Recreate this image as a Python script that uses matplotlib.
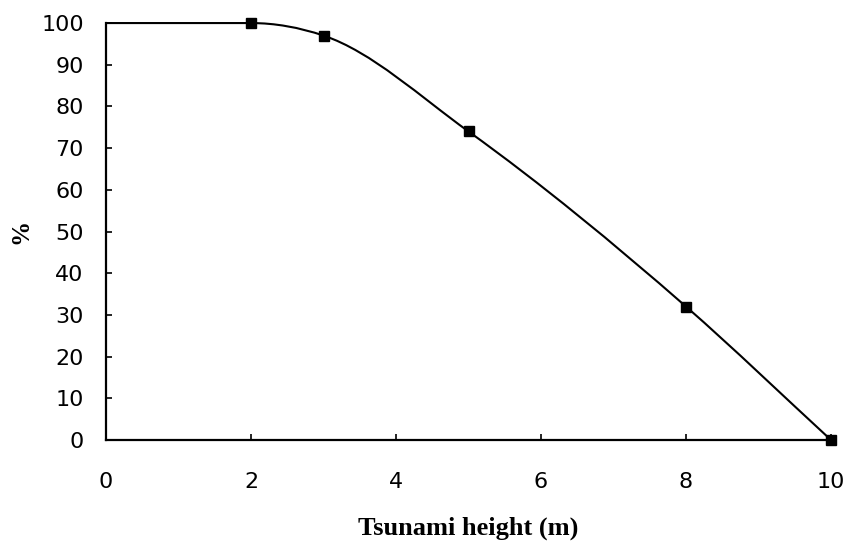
import matplotlib.pyplot as plt
from matplotlib.path import Path
from matplotlib.patches import PathPatch

# tsunami height (m) vs percent
height = [0, 2, 3, 5, 8, 10]
percent = [100, 100, 97, 74, 32, 0]
marked = [False, True, True, True, True, True]

xticks = [0, 2, 4, 6, 8, 10]
yticks = [0, 10, 20, 30, 40, 50, 60, 70, 80, 90, 100]


def smooth_path(xs, ys):
    # smoothed line: parabolic tangents turned into bezier segments
    n = len(xs)
    h = [xs[i + 1] - xs[i] for i in range(n - 1)]
    d = [(ys[i + 1] - ys[i]) / h[i] for i in range(n - 1)]
    m = [0.0] * n
    for k in range(1, n - 1):
        if d[k - 1] * d[k] > 0:
            m[k] = (h[k] * d[k - 1] + h[k - 1] * d[k]) / (h[k - 1] + h[k])
    m[0] = d[0]
    m[-1] = d[-1]
    verts = [(xs[0], ys[0])]
    codes = [Path.MOVETO]
    for i in range(n - 1):
        verts += [(xs[i] + h[i] / 3, ys[i] + m[i] * h[i] / 3),
                  (xs[i + 1] - h[i] / 3, ys[i + 1] - m[i + 1] * h[i] / 3),
                  (xs[i + 1], ys[i + 1])]
        codes += [Path.CURVE4] * 3
    return Path(verts, codes)


fig = plt.figure(figsize=(8.48, 5.49), dpi=100)
ax = fig.add_axes([0.125, 0.1985, 0.855, 0.7595])

ax.add_patch(PathPatch(smooth_path(height, percent), fill=False,
                       edgecolor='black', lw=1.5, clip_on=False))
mx = [x for x, k in zip(height, marked) if k]
my = [y for y, k in zip(percent, marked) if k]
ax.plot(mx, my, 's', color='black', markersize=6.5, clip_on=False, zorder=5)

ax.set_xlim(0, 10)
ax.set_ylim(0, 100)
ax.set_xticks(xticks)
ax.set_yticks(yticks)
ax.tick_params(direction='in', length=4, width=1.2, labelsize=16)
ax.tick_params(axis='y', pad=16)
ax.tick_params(axis='x', pad=23)
for s in ['top', 'right']:
    ax.spines[s].set_visible(False)
for s in ['left', 'bottom']:
    ax.spines[s].set_linewidth(1.6)

ax.set_xlabel('Tsunami height (m)', family='Liberation Serif', fontsize=19,
              fontweight='bold', labelpad=18)
ax.set_ylabel('%', family='Liberation Serif', fontsize=18, fontweight='bold',
              labelpad=6)

plt.savefig('out.png', dpi=100)
